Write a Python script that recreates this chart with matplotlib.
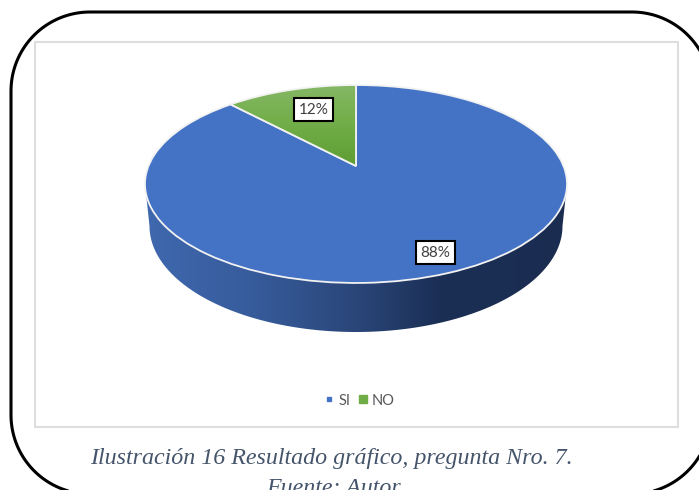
import numpy as np
import matplotlib
matplotlib.use('Agg')
import matplotlib.pyplot as plt
from matplotlib.colors import LinearSegmentedColormap
from matplotlib.lines import Line2D
from matplotlib.patches import Rectangle, Polygon
from matplotlib.transforms import Transform

categories = ['SI', 'NO']
values = [88, 12]
colors = ['#4472C4', '#70AD47']
caption = ['Ilustración 16 Resultado gráfico, pregunta Nro. 7.', 'Fuente: Autor']


# tilted disc: unit circle to pixel coordinates, far side is smaller
class Tilt(Transform):
    input_dims = 2
    output_dims = 2

    def transform_non_affine(self, xy):
        xy = np.asarray(xy, dtype=float)
        d = 1 + 0.1818 * xy[:, 1]
        return np.column_stack((356 + 207.5 * xy[:, 0] / d, 166 - 95.7 * xy[:, 1] / d))


plt.rcParams['font.family'] = ['Lato', 'DejaVu Sans']

fig = plt.figure(figsize=(6.99, 4.90), dpi=100)
ax = fig.add_axes([0, 0, 1, 1])

# side wall of the pie
t = np.linspace(np.pi, 0, 200)
wall = np.vstack(([[145, 184]],
                  np.column_stack((356 + 206.5 * np.cos(t), 226 + 106 * np.sin(t))),
                  [[567, 184]]))
wall_patch = Polygon(wall, closed=True, fc='none', ec='none')
ax.add_patch(wall_patch)
wall_cmap = LinearSegmentedColormap.from_list('wall', [(0, '#3F68AE'), (0.25, '#375C9C'), (0.5, '#2A4679'),
                                                       (0.7, '#1B2F55'), (1, '#1A2C50')])
im = ax.imshow(np.linspace(0, 1, 256)[None, :], cmap=wall_cmap, extent=(145, 567, 335, 180),
               aspect='auto', zorder=1)
im.set_clip_path(wall_patch)

wedges, _ = ax.pie(values, colors=colors, startangle=90, counterclock=False,
                   wedgeprops={'edgecolor': '#F2F2F2', 'linewidth': 1.3, 'zorder': 3})
tilt = Tilt() + ax.transData
for w in wedges:
    w.set_transform(tilt)

# green slice is lighter at the rim
green_cmap = LinearSegmentedColormap.from_list('green', ['#86B866', '#70AD47', '#5E9C32'])
im2 = ax.imshow(np.linspace(0, 1, 128)[:, None], cmap=green_cmap, extent=(220, 360, 168, 84),
                aspect='auto', zorder=3.5)
im2.set_clip_path(wedges[1])
wedges[1].set_zorder(4)
wedges[1].set_facecolor('none')

# plot frame and rounded outer border
ax.add_patch(Rectangle((35, 42), 642.5, 384.5, fc='none', ec='#DEDEDE', lw=1.5, zorder=0.5))
r = 79
corners = [(632, 91, -90, 0), (632, 415, 0, 90), (90, 415, 90, 180), (90, 91, 180, 270)]
border = []
for cx, cy, a0, a1 in corners:
    a = np.radians(np.linspace(a0, a1, 40))
    border.append(np.column_stack((cx + r * np.cos(a), cy + r * np.sin(a))))
ax.add_patch(Polygon(np.vstack(border), closed=True, fc='none', ec='black', lw=2.2, zorder=5))

label_pos = [(435.5, 252.5), (313.5, 109.5)]
for v, pos in zip(values, label_pos):
    ax.text(pos[0], pos[1], f'{v}%', ha='center', va='center', fontsize=11, color='#404040', zorder=6,
            bbox={'boxstyle': 'square,pad=0.3', 'fc': 'white', 'ec': 'black', 'lw': 1.5})

handles = [Line2D([], [], ls='none', marker='s', ms=ms, color=c) for c, ms in zip(colors, [3.5, 6])]
ax.legend(handles, categories, loc='center', bbox_to_anchor=(358.5, 400.5), bbox_transform=ax.transData,
          ncol=2, frameon=False, fontsize=10.5, labelcolor='#595959', handletextpad=0.1, columnspacing=0.4,
          handlelength=1)

ax.text(331.5, 458, caption[0], ha='center', va='center', fontsize=17.3, style='italic',
        family='Liberation Serif', color='#44546A')
ax.text(333, 488, caption[1], ha='center', va='center', fontsize=17.3, style='italic',
        family='Liberation Serif', color='#44546A')

ax.set_aspect('auto')
ax.set_xlim(0, 699)
ax.set_ylim(490, 0)
ax.axis('off')
fig.savefig('out.png', dpi=100)
